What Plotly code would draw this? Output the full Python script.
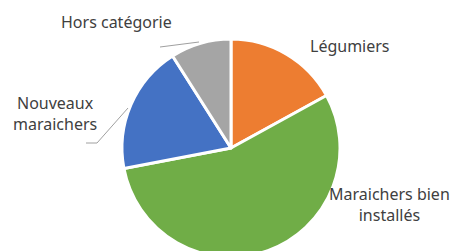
import plotly.graph_objects as go

labels = ["Légumiers", "Maraichers bien installés", "Nouveaux maraichers", "Hors catégorie"]
values = [17, 55, 19, 9]
colors = ["#ED7D31", "#70AD47", "#4472C4", "#A5A5A5"]
label_text = ["Légumiers", "Maraichers bien<br>installés", "Nouveaux<br>maraichers", "Hors catégorie"]
label_pos = [(350, 46), (389, 204), (55, 113), (116, 22)]  # pixel centers of label text

W, H = 461, 258
CX, CY, R = 231, 148, 109
fig = go.Figure(go.Pie(
    labels=labels, values=values, sort=False, direction="clockwise", rotation=0,
    marker=dict(colors=colors, line=dict(color="white", width=3)),
    textinfo="none", hoverinfo="label+percent", showlegend=False,
    domain=dict(x=[(CX - R) / W, (CX + R) / W], y=[1 - (CY + R) / H, 1 - (CY - R) / H]),
))

for txt, (px, py) in zip(label_text, label_pos):
    fig.add_annotation(x=px / W, y=1 - py / H, xref="paper", yref="paper", text=txt,
                       showarrow=False, xanchor="center", yanchor="middle", align="center",
                       font=dict(family="Noto Sans", size=16, color="#404040"))

# leader lines
line_style = dict(color="#A0A0A0", width=1)
fig.add_shape(type="line", xref="paper", yref="paper", x0=160 / W, y0=1 - 47 / H, x1=199 / W, y1=1 - 42 / H, line=line_style)
fig.add_shape(type="path", xref="paper", yref="paper",
              path=f"M {86/W} {1-143/H} L {97/W} {1-143/H} L {128/W} {1-108/H}", line=line_style)

fig.update_layout(width=W, height=H, margin=dict(l=0, r=0, t=0, b=0),
                  paper_bgcolor="white", plot_bgcolor="white")
fig.write_html("out.html", config={"displayModeBar": False},
               post_script="document.body.style.margin='0';document.body.style.overflow='hidden';")
